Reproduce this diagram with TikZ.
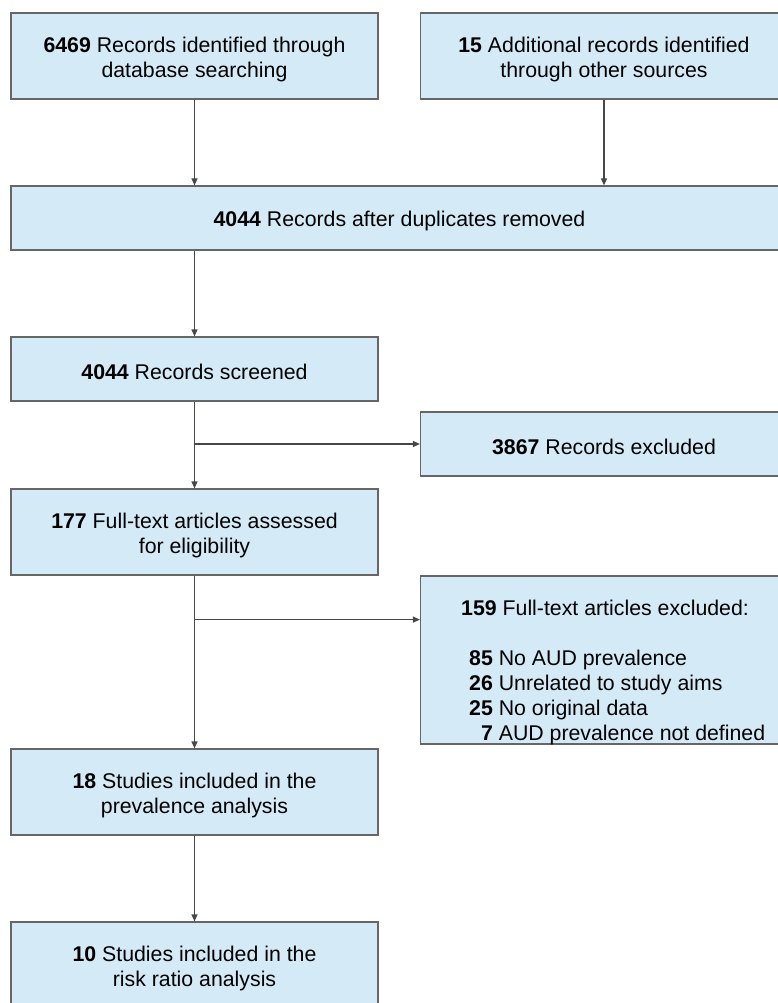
\documentclass[tikz,border=0pt]{standalone}
\usepackage{fontspec}
\setmainfont{Liberation Sans}
\usetikzlibrary{arrows.meta,calc}
\definecolor{boxfill}{HTML}{D5EAF7}
\definecolor{boxline}{HTML}{666666}
\definecolor{arrline}{HTML}{474747}
\begin{document}
\begin{tikzpicture}[x=1pt,y=-1pt,
  box/.style={draw=boxline, fill=boxfill, line width=1.2pt, minimum width=367pt,
    minimum height=86pt, inner sep=0pt},
  txt/.style={inner sep=0pt, align=center, font=\fontsize{21.3}{25}\selectfont},
  arr/.style={draw=arrline, line width=1.2pt, -{Triangle[length=7pt,width=6pt]}}]
\useasboundingbox (0,0) rectangle (778,1003);
\clip (0,0) rectangle (778,1003);
\node[box] (a) at (194.5,56) {};
\node[txt] (at) at ([yshift=-3pt]a.center) {\textbf{6469} Records identified through\\database searching};
\node[box] (b) at (604,56) {};
\node[txt] (bt) at ([yshift=-3pt]b.center) {\textbf{15} Additional records identified\\through other sources};
\node[box, minimum width=777pt, minimum height=64pt] (c) at (399.5,218) {};
\node[txt] (ct) at ([yshift=-3pt]c.center) {\textbf{4044} Records after duplicates removed};
\node[box, minimum height=64pt] (d) at (194.5,369) {};
\node[txt] (dt) at ([yshift=-3pt]d.center) {\textbf{4044} Records screened};
\node[box, minimum height=64pt] (e) at (604,444) {};
\node[txt] (et) at ([yshift=-3pt]e.center) {\textbf{3867} Records excluded};
\node[box] (f) at (194.5,532) {};
\node[txt] (ft) at ([yshift=-3pt]f.center) {\textbf{177} Full-text articles assessed\\for eligibility};
\node[box, minimum height=168pt] (g) at (604,660) {};
\node[txt, anchor=west] (gt) at (461,673) {\begin{tabular}{@{\hspace{8pt}}r@{\ }l@{}}
\multicolumn{2}{@{}l@{}}{\textbf{159} Full-text articles excluded:}\\
\\
\textbf{85} & No AUD prevalence\\
\textbf{26} & Unrelated to study aims\\
\textbf{25} & No original data\\
\textbf{7} & AUD prevalence not defined
\end{tabular}};
\node[box] (h) at (194.5,792) {};
\node[txt] (ht) at ([yshift=-3pt]h.center) {\textbf{18} Studies included in the\\prevalence analysis};
\node[box] (i) at (194.5,965) {};
\node[txt] (it) at ([yshift=-3pt]i.center) {\textbf{10} Studies included in the\\risk ratio analysis};
\draw[arr] (a) -- (a |- c.north);
\draw[arr] (b) -- (b |- c.north);
\draw[arr] (d |- c.south) -- (d.north);
\draw[arr] (d) -- (f);
\coordinate (j1) at (d.south |- e.west);
\draw[arr] (j1) -- (e.west);
\draw[arr] (f) -- (h);
\coordinate (j2) at ($(f.south)+(0,44)$);
\draw[arr] (j2) -- (j2 -| g.west);
\draw[arr] (h) -- (i);
\end{tikzpicture}
\end{document}
